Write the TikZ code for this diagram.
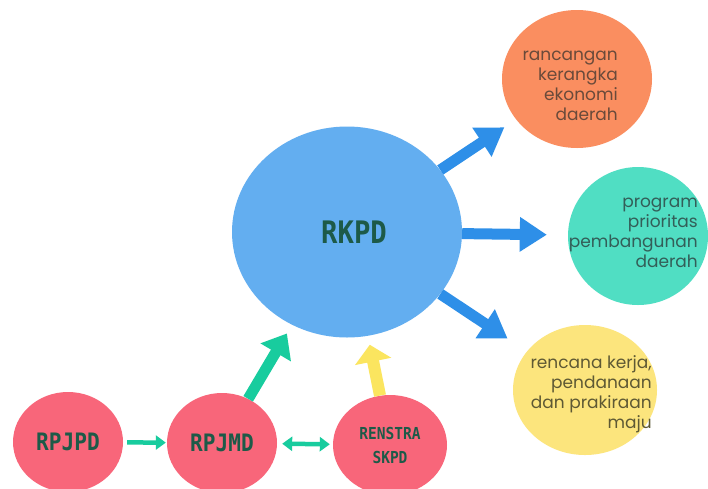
\documentclass[tikz,border=0pt]{standalone}
\usepackage{fontspec}
\setmainfont{Poppins}
\newfontfamily\labfont[FakeStretch=0.88]{DejaVu Sans Mono}
\usetikzlibrary{shapes.geometric,arrows.meta}
\definecolor{rkpdblue}{HTML}{63AEF0}
\definecolor{orangeb}{HTML}{FA8E60}
\definecolor{tealb}{HTML}{50DEC3}
\definecolor{yellowb}{HTML}{FCE57D}
\definecolor{pinkb}{HTML}{F8667A}
\definecolor{arrowblue}{HTML}{2E8FE8}
\definecolor{arrowteal}{HTML}{18CC9E}
\definecolor{arrowyellow}{HTML}{FBE55F}
\definecolor{labgreen}{HTML}{1D5A48}
\definecolor{txtorange}{HTML}{6A4A3A}
\definecolor{txtteal}{HTML}{335E58}
\definecolor{txtyellow}{HTML}{5E5934}
\tikzset{
  bubble/.style={ellipse, inner sep=0pt, draw=none},
  boldlab/.style={text=labgreen, font=\labfont\bfseries},
  sidetext/.style={align=right, anchor=east, inner sep=0pt, font=\fontsize{17}{20}\selectfont},
  bluearrow/.style={draw=arrowblue, line width=11pt, -{Triangle[width=33pt,length=27pt]}},
  thinteal/.style={draw=arrowteal, line width=4.5pt},
  smalltri/.tip={Triangle[width=14pt,length=10pt]},
  bigteal/.style={draw=arrowteal, line width=11pt, -{Triangle[width=34pt,length=22pt]}},
  bigyellow/.style={draw=arrowyellow, line width=12pt, -{Triangle[width=36pt,length=17pt]}}
}
\begin{document}
\begin{tikzpicture}[x=1pt,y=-1pt]
\useasboundingbox (0,0) rectangle (708,488);
\fill[white] (0,0) rectangle (708,488);

% main bubbles
\node[bubble, fill=rkpdblue, minimum width=230pt, minimum height=211pt, boldlab, font=\labfont\bfseries\fontsize{31}{31}\selectfont] (rkpd) at (347,232) {\hspace{14pt}RKPD};
\node[bubble, fill=orangeb, minimum width=150pt, minimum height=138pt] (orange) at (577,79) {};
\node[bubble, fill=tealb, minimum width=140pt, minimum height=138pt] (teal) at (638,236) {};
\node[bubble, fill=yellowb, minimum width=144pt, minimum height=130pt] (yellow) at (585,390) {};

% bottom bubbles
\node[bubble, fill=pinkb, minimum width=110pt, minimum height=100pt, boldlab, font=\labfont\bfseries\fontsize{24}{24}\selectfont] (rpjpd) at (68,442) {RPJPD};
\node[bubble, fill=pinkb, minimum width=110pt, minimum height=100pt, boldlab, font=\labfont\bfseries\fontsize{24}{24}\selectfont] (rpjmd) at (222,443) {RPJMD};
\node[bubble, fill=pinkb, minimum width=114pt, minimum height=100pt, boldlab, align=center, font=\labfont\bfseries\fontsize{16.5}{24}\selectfont] (renstra) at (390,445) {RENSTRA\\SKPD\hspace{0pt}};

% side texts
\node[sidetext, text=txtorange] (torange) at (618,86) {rancangan\\kerangka\\ekonomi\\daerah};
\node[sidetext, text=txtteal] (tteal) at (698,233) {program\\prioritas\\pembangunan\\daerah};
\node[sidetext, text=txtyellow] (tyellow) at (652,394) {rencana kerja,\\pendanaan\\dan prakiraan\\maju};

% blue arrows
\draw[bluearrow, shorten >=14pt] (rkpd) -- (orange);
\draw[bluearrow, shorten >=21pt] (rkpd) -- (teal);
\draw[bluearrow, shorten >=23pt] (rkpd) -- (yellow);

% bottom connectors
\draw[thinteal, -{smalltri}, shorten <=4pt, shorten >=1pt] (rpjpd) -- (rpjmd);
\draw[thinteal, {smalltri}-{smalltri}, shorten <=5pt, shorten >=3pt] (rpjmd) -- (renstra);
\draw[bigteal, shorten >=10pt] (rpjmd) -- (rkpd);
\draw[bigyellow, shorten >=9pt] (renstra) -- (rkpd);
\end{tikzpicture}
\end{document}
